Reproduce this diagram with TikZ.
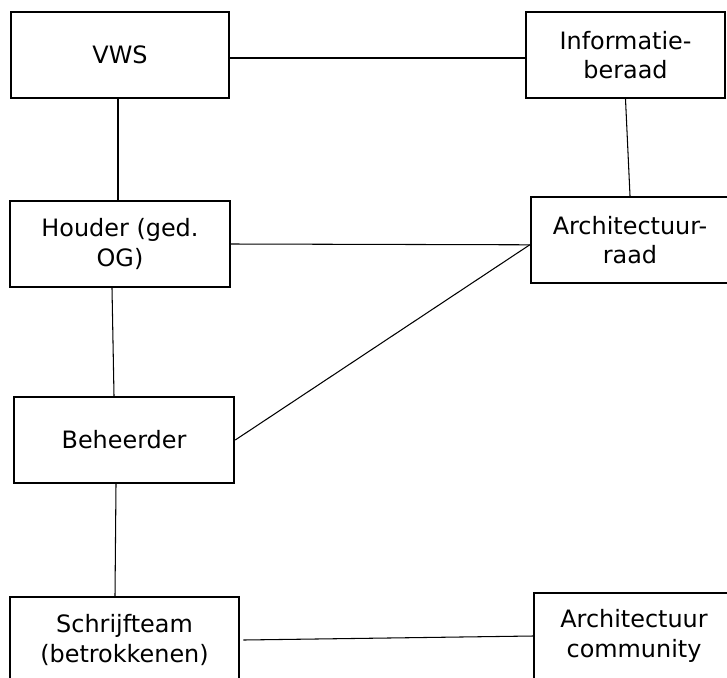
\documentclass[tikz,border=0pt]{standalone}
\usepackage{fontspec}
\setmainfont{DejaVu Sans}
\usetikzlibrary{positioning}

\begin{document}
\begin{tikzpicture}[
  x=0.025cm, y=-0.025cm,
  box/.style={rectangle, draw=black, line width=1.7pt, fill=white,
              minimum width=#1, minimum height=2.15cm, inner sep=0pt,
              align=center, font=\fontsize{17}{20.8}\selectfont},
  box/.default=5.5cm,
  link/.style={line width=0.75pt}
]
  \useasboundingbox (0,0) rectangle (727,677);
  \clip (0,0) rectangle (727,677);

  \node[box=5.45cm] (vws) at (120,55) {VWS};
  \node[box=4.975cm] (info) at (625.5,55) {Informatie-\\beraad};
  \node[box] (houder) at (120,244) {Houder (ged.\\OG)};
  \node[box=4.95cm] (raad) at (630,240) {Architectuur-\\raad};
  \node[box] (beheer) at (124,440) {Beheerder};
  \node[box=5.725cm] (schrijf) at (124.5,640) {Schrijfteam\\(betrokkenen)};
  \node[box=5cm] (community) at (634,636) {Architectuur\\community};

  \draw[link] (vws.east |- 0,58) -- (info.west |- 0,58);
  \draw[link] (vws.south -| 118,0) -- (houder.north -| 118,0);
  \draw[link] (info.south) -- (raad.north);
  \draw[link] (houder.east) -- ([yshift=-0.12cm]raad.west);
  \draw[link] (houder.south -| 112,0) -- (beheer.north -| 114,0);
  \draw[link] (beheer.east) -- ([yshift=-0.12cm]raad.west);
  \draw[link] (beheer.south -| 116,0) -- (schrijf.north -| 115,0);
  \draw[link] ([xshift=0.08cm]schrijf.east) -- (community.west);
\end{tikzpicture}
\end{document}
